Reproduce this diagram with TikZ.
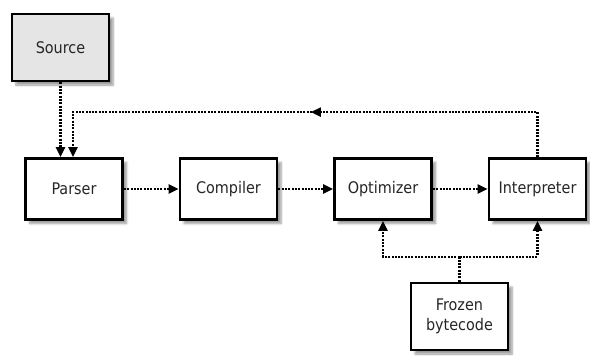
\documentclass[tikz,border=0pt]{standalone}
\usepackage{fontspec}
\setmainfont{DejaVu Sans Condensed}
\usepackage{tikz}
\usetikzlibrary{arrows.meta, positioning, shadows.blur, decorations.markings}

\begin{document}
\begin{tikzpicture}[x=1pt, y=1pt, node distance=154.5pt]
\tikzstyle{stage} = [rectangle, minimum width=97pt, minimum height=61pt, text centered, draw=black, line width=2.8pt, fill=white, font=\fontsize{16}{17}\selectfont, text=black!85, blur shadow={shadow xshift=4pt, shadow yshift=-4pt, shadow blur steps=6, shadow opacity=40}]
\tikzstyle{inbox} = [stage, minimum height=67pt, align=center]
\tikzstyle{dots} = [line width=2.2pt, dash pattern=on 2pt off 1.3pt]
\tikzstyle{flow} = [dots, -{Triangle[length=10pt, width=9pt]}]

\useasboundingbox (0,0) rectangle (590,-356);

\node (source) [inbox, fill=black!10] at (60.5,-47.5) {Source};
\node (parser) [stage] at (74,-189) {Parser};
\node (compiler) [stage, right of=parser] {Compiler};
\node (optimizer) [stage, right of=compiler] {Optimizer};
\node (interp) [stage, right of=optimizer] {Interpreter};
\node (frozen) [inbox] at (459.5,-316.5) {Frozen\\[3pt]bytecode};

% source feeds the parser, interpreter loops back to it
\draw [flow] (source.south) -- (source.south |- parser.north);
\draw [flow, postaction={decorate}, decoration={markings, mark=at position 0.49 with {\arrow{Triangle[length=10pt, width=9pt]}}}]
  (interp.north) -- ++(0,45) -| ([xshift=-1pt]parser.north);

% main pipeline
\draw [flow] (parser) -- (compiler);
\draw [flow] (compiler) -- (optimizer);
\draw [flow] (optimizer) -- (interp);

% frozen bytecode goes to both back ends
\draw [dots] (frozen.north) -- ++(0,25) coordinate (split);
\draw [flow] (split) -| (optimizer.south);
\draw [flow] (split) -| (interp.south);
\end{tikzpicture}
\end{document}
